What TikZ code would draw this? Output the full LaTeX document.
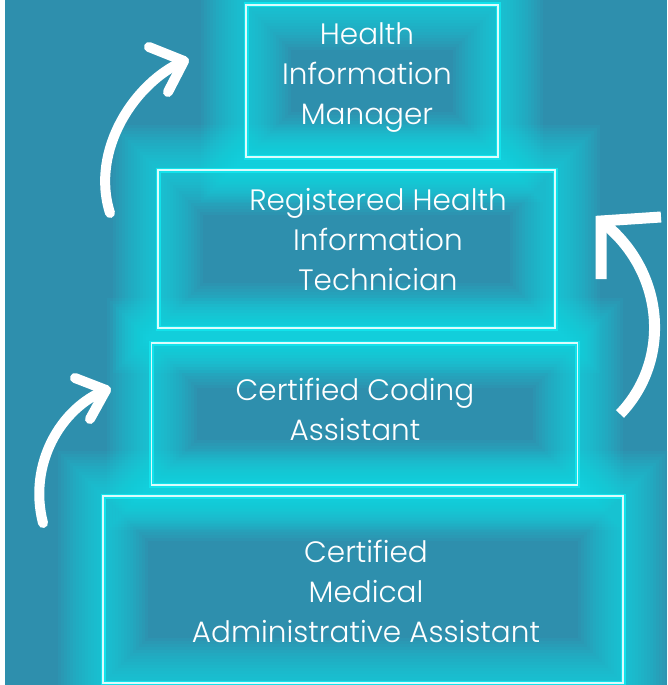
\documentclass[tikz,border=0pt]{standalone}
\usepackage{fontspec}
\IfFontExistsTF{Poppins Light}{\setmainfont{Poppins Light}}{\setmainfont{Poppins}}
\definecolor{tealbg}{HTML}{2E8FAD}
\definecolor{neon}{HTML}{12E2EB}
\tikzset{
  tier/.style={inner sep=0pt, outer sep=0pt},
  glow/.style={draw=neon, opacity=0.065},
  rim/.style={draw=neon, line width=5pt},
  core/.style={draw=white!85!neon, line width=1.5pt},
  label/.style={text=white, font=\fontsize{29.5}{40}\selectfont, align=center},
  swoop/.style={draw=white, line width=10pt, line cap=round, line join=round},
  hook/.style={draw=white, line width=11pt, line cap=butt, line join=miter},
}

\begin{document}
\begin{tikzpicture}[x=1pt,y=-1pt]
  \fill[white] (0,0) rectangle (667,685);
  \fill[tealbg] (5,0) rectangle (667,685);
  \useasboundingbox (0,0) rectangle (667,685);

  % the four tiers, bottom to top
  \node[tier, minimum width=520pt, minimum height=187pt] (cmaa) at (363,589.5) {};
  \node[tier, minimum width=426pt, minimum height=142pt] (cca) at (364.5,414) {};
  \node[tier, minimum width=397pt, minimum height=158pt] (rhit) at (356.5,249) {};
  \node[tier, minimum width=252pt, minimum height=152pt] (him) at (372,81) {};

  % neon glow
  \foreach \b in {cmaa,cca,rhit,him}
    \foreach \w in {90,84,...,6}
      \draw[glow, line width=\w pt] (\b.north west) rectangle (\b.south east);
  \foreach \b in {cmaa,cca,rhit,him} {
    \draw[rim] (\b.north west) rectangle (\b.south east);
    \draw[core] (\b.north west) rectangle (\b.south east);
  }

  \node[label] (himtxt) at (367,78) {Health\\Information\\Manager};
  \node[label] (rhittxt) at (378,240) {Registered Health\\Information\\Technician};
  \node[label] (ccatxt) at (355,409) {Certified Coding\\Assistant};
  \node[label] (cmaatxt) at (366,591) {Certified\\Medical\\Administrative Assistant};

  % progression arrows
  \coordinate (upA) at (110,213);
  \coordinate (tipA) at (184,61);
  \draw[swoop] (upA) .. controls (90,150) and (135,82) .. (tipA);
  \draw[swoop] (149,47) -- (tipA) -- (168,92);

  \coordinate (upB) at (43,523);
  \coordinate (tipB) at (106,390);
  \draw[swoop] (upB) .. controls (28,465) and (60,408) .. (tipB);
  \draw[swoop] (75,378) -- (tipB) -- (90,419);

  \coordinate (upC) at (620,414);
  \coordinate (tipC) at (601,221);
  \draw[hook] (upC) .. controls (672,360) and (665,270) .. (tipC);
  \draw[hook] (661,217) -- (tipC) -- (601,279);
\end{tikzpicture}
\end{document}
